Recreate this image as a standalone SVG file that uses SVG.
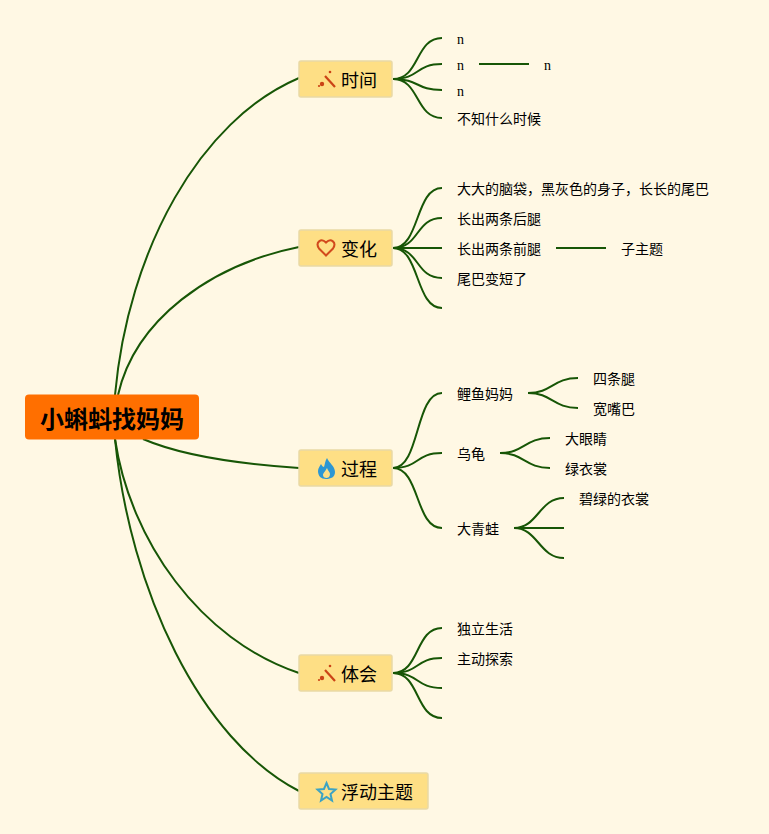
<svg xmlns="http://www.w3.org/2000/svg" width="769" height="834" viewBox="0 0 769 834">
<style>
text{font-family:"Liberation Sans","Noto Sans CJK SC",sans-serif;fill:#000}
.t{font-size:14px}
.s{font-family:"Liberation Serif","Noto Sans CJK SC",serif}
.m{font-size:18px}
.b{fill:#fedf85;stroke:#e9d9a5;stroke-width:1.5}
#connectors path{fill:none;stroke:#175606;stroke-width:2}
.ic{fill:none;stroke-width:2}
</style>
<rect width="769" height="834" fill="#fff8e4"/>
<g id="connectors">
<path d="M115 395C128 250 200 120 299 78"/>
<path d="M118 395C135 320 210 265 299 247"/>
<path d="M143 439C180 455 240 464 299 468"/>
<path d="M115 439C130 540 200 640 299 673"/>
<path d="M115 439C130 590 200 740 299 791"/>
<path d="M393 79C420 79 415 38 442 38"/>
<path d="M393 79C420 79 415 64 442 64"/>
<path d="M393 79C420 79 415 90 442 90"/>
<path d="M393 79C420 79 415 118 442 118"/>
<path d="M479 64H529"/>
<path d="M393 248C420 248 415 188 442 188"/>
<path d="M393 248C420 248 415 218 442 218"/>
<path d="M393 248H442"/>
<path d="M393 248C420 248 415 278 442 278"/>
<path d="M393 248C420 248 415 308 442 308"/>
<path d="M556 248H606"/>
<path d="M393 468C420 468 415 393 442 393"/>
<path d="M393 468C420 468 415 453 442 453"/>
<path d="M393 468C420 468 415 528 442 528"/>
<path d="M528 393C552 393 553 378 578 378"/>
<path d="M528 393C552 393 553 408 578 408"/>
<path d="M500 453C524 453 525 438 550 438"/>
<path d="M500 453C524 453 525 468 550 468"/>
<path d="M514 528C538 528 539 498 564 498"/>
<path d="M514 528H564"/>
<path d="M514 528C538 528 539 558 564 558"/>
<path d="M393 673C420 673 415 628 442 628"/>
<path d="M393 673C420 673 415 658 442 658"/>
<path d="M393 673C420 673 415 688 442 688"/>
<path d="M393 673C420 673 415 718 442 718"/>
</g>
<g id="root"><rect x="25" y="394.500" width="174" height="45" rx="4" fill="#ff6f00"/><text x="112" y="428" text-anchor="middle" font-size="24" font-weight="700">小蝌蚪找妈妈</text></g>
<defs>
<g id="wand" fill="#cb4316"><path d="M325 76L335 87" stroke="#cb4316" stroke-width="2.200"/><circle cx="322" cy="84" r="2.200"/><circle cx="330" cy="72" r="1.300"/><circle cx="319" cy="86" r="1.100"/></g>
</defs>
<g id="n-time"><rect class="b" x="299" y="61" width="93" height="36" rx="2"/>
<use href="#wand"/>
<text class="m" x="341" y="87">时间</text></g>
<g id="n-change"><rect class="b" x="299" y="230" width="93" height="36" rx="2"/>
<path class="ic" stroke="#d2491c" d="M326 255.500L319 248.500C315 242.500 321 237.500 326 242.500C331 237.500 337 242.500 333 248.500Z"/>
<text class="m" x="341" y="256">变化</text></g>
<g id="n-process"><rect class="b" x="299" y="450" width="93" height="36" rx="2"/>
<path fill="#2d97d3" d="M327 458C329 463 335 466 335 472C335 477 331 479 326 479C321 479 318 476 318 471C318 468 320 466 321 464C322 466 323 467 324 467C325 464 325 461 327 458Z"/>
<path fill="#fedf85" d="M327 468C328 471 330 472 330 474C330 477 328 478 326.500 478C324.500 478 323 477 323 475C323 473 325 472 327 468Z"/>
<text class="m" x="341" y="476">过程</text></g>
<g id="n-feel"><rect class="b" x="299" y="655" width="93" height="36" rx="2"/>
<use href="#wand" y="594"/>
<text class="m" x="341" y="681">体会</text></g>
<g id="n-float"><rect class="b" x="299" y="773" width="129" height="36" rx="2"/>
<path class="ic" stroke="#3ba3c4" d="M326.500 783L329 789L335.500 789.500L330.500 794L332 800.500L326.500 797L321 800.500L322.500 794L317.500 789.500L324 789Z"/>
<text class="m" x="341" y="799">浮动主题</text></g>
<g id="leaves" class="t">
<text class="s" x="457" y="44">n</text><text class="s" x="457" y="70">n</text><text class="s" x="544" y="70">n</text><text class="s" x="457" y="96">n</text><text x="457" y="124">不知什么时候</text>
<text x="457" y="194">大大的脑袋，黑灰色的身子，长长的尾巴</text><text x="457" y="224">长出两条后腿</text><text x="457" y="254">长出两条前腿</text><text x="621" y="254">子主题</text><text x="457" y="284">尾巴变短了</text>
<text x="457" y="399">鲤鱼妈妈</text><text x="593" y="384">四条腿</text><text x="593" y="414">宽嘴巴</text>
<text x="457" y="459">乌龟</text><text x="565" y="444">大眼睛</text><text x="565" y="474">绿衣裳</text>
<text x="457" y="534">大青蛙</text><text x="579" y="504">碧绿的衣裳</text>
<text x="457" y="634">独立生活</text><text x="457" y="664">主动探索</text>
</g>
</svg>
